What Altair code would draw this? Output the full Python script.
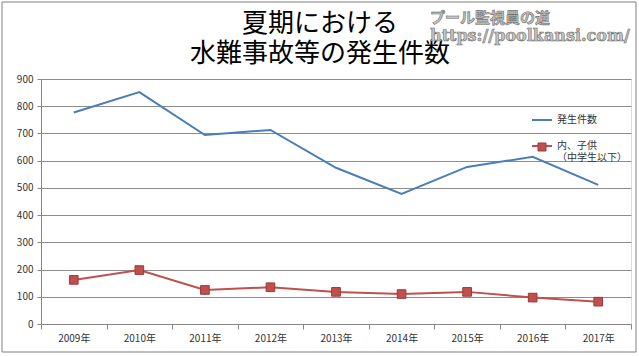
import altair as alt
import pandas as pd

years = ["2009年", "2010年", "2011年", "2012年", "2013年", "2014年", "2015年", "2016年", "2017年"]
total = [777, 852, 694, 713, 574, 478, 577, 614, 511]
children = [162, 198, 125, 135, 118, 110, 118, 97, 82]
series_names = ["発生件数", "内、子供（中学生以下）"]
title_lines = ["夏期における", "水難事故等の発生件数"]
watermark_lines = ["プール監視員の道", "https://poolkansi.com/"]

rows = []
for y, v in zip(years, total):
    rows.append({"year": y, "series": series_names[0], "value": v})
for y, v in zip(years, children):
    rows.append({"year": y, "series": series_names[1], "value": v})
df = pd.DataFrame(rows)

FONT = "Noto Sans CJK JP"
BLUE = "#4a7ebb"
RED = "#c0504d"

x_enc = alt.X("year:N", sort=years, title=None,
              scale=alt.Scale(type="band", paddingInner=0, paddingOuter=0),
              axis=alt.Axis(labelAngle=0, tickBand="extent", tickSize=5, labelPadding=4,
                            labelFontSize=10, labelColor="#333333", labelFont=FONT,
                            domainColor="#868686", tickColor="#868686", grid=False))
y_enc = alt.Y("value:Q", title=None,
              scale=alt.Scale(domain=[0, 900], nice=False),
              axis=alt.Axis(values=list(range(0, 901, 100)), tickSize=4, labelPadding=4,
                            labelFontSize=10, labelColor="#333333", labelFont=FONT,
                            domainColor="#868686", tickColor="#868686",
                            gridColor="#8c8c8c", gridWidth=1))

LX, LY = 490, 30

legend_lines = alt.Legend(
    title=None, orient="none", legendX=LX, legendY=LY,
    labelFont=FONT, labelFontSize=10, labelColor="#333333", labelLimit=300,
    symbolType="stroke", symbolSize=400, symbolStrokeWidth=2, rowPadding=10, labelOffset=4,
    labelExpr="datum.label == '発生件数' ? datum.label : ['内、子供', '（中学生以下）']",
)

lines = alt.Chart(df).mark_line(strokeWidth=2).encode(
    x=x_enc, y=y_enc,
    color=alt.Color("series:N", scale=alt.Scale(domain=series_names, range=[BLUE, RED]),
                    legend=legend_lines),
)

legend_square = alt.Legend(
    title=None, orient="none", legendX=LX + 6, legendY=LY + 33,
    symbolType="square", symbolSize=64, symbolStrokeWidth=1,
    symbolStrokeColor="#9c3a37", labelExpr="''",
)

points = alt.Chart(df).transform_filter(
    alt.datum.series == series_names[1]
).mark_point(shape="square", filled=True, size=75, stroke="#9c3a37",
             strokeWidth=1, opacity=1).encode(
    x=x_enc, y=y_enc,
    fill=alt.Fill("series:N", scale=alt.Scale(domain=[series_names[1]], range=[RED]),
                  legend=legend_square),
)

border = alt.Chart(pd.DataFrame({"a": [0]})).mark_rect(
    fill=None, stroke="#7f7f7f", strokeWidth=1
).encode(x=alt.value(-39), x2=alt.value(595), y=alt.value(-77), y2=alt.value(273))

t1 = alt.Chart(pd.DataFrame({"t": [title_lines[0]]})).mark_text(
    font=FONT, fontSize=26, color="black", align="center", baseline="middle"
).encode(text="t:N", x=alt.value(279), y=alt.value(-55))

t2 = alt.Chart(pd.DataFrame({"t": [title_lines[1]]})).mark_text(
    font=FONT, fontSize=26, color="black", align="center", baseline="middle"
).encode(text="t:N", x=alt.value(279), y=alt.value(-25))

wm1 = alt.Chart(pd.DataFrame({"t": [watermark_lines[0]]})).mark_text(
    font=FONT, fontSize=15, fontWeight="bold",
    color="#c4c4c4", stroke="#6f6f6f", strokeWidth=0.6, align="left", baseline="middle"
).encode(text="t:N", x=alt.value(389), y=alt.value(-61))

wm2 = alt.Chart(pd.DataFrame({"t": [watermark_lines[1]]})).mark_text(
    font="DejaVu Serif", fontSize=16, fontWeight="bold",
    color="#c4c4c4", stroke="#6f6f6f", strokeWidth=0.6, align="left", baseline="middle"
).encode(text="t:N", x=alt.value(389), y=alt.value(-43))

chart = alt.layer(border, lines, points, t1, t2, wm1, wm2).resolve_scale(
    color="independent", fill="independent"
).resolve_legend(color="independent", fill="independent").properties(
    width=590, height=245,
    autosize=alt.AutoSizeParams(type="none"),
    padding={"left": 41, "top": 79, "right": 8, "bottom": 32},
).configure_view(stroke=None).configure(background="white")

chart.save("out.html", embed_options={"renderer": "svg", "actions": False})
